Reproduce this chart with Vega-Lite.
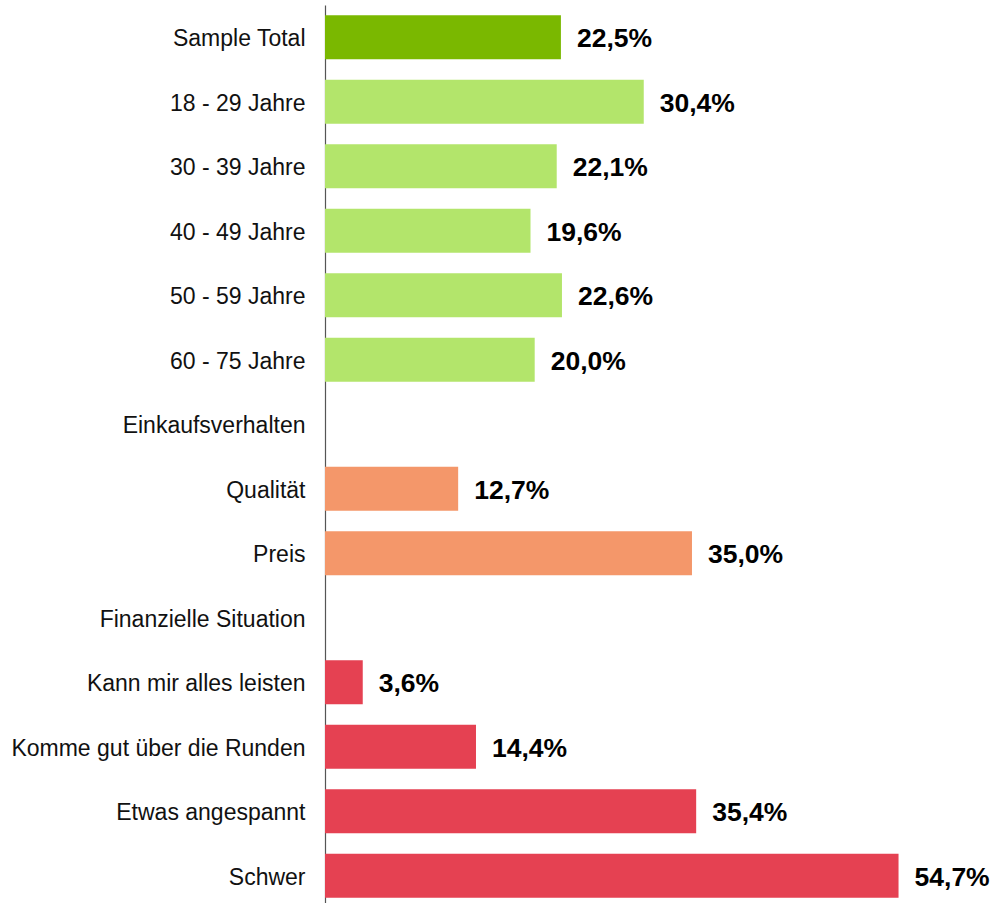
{
  "$schema": "https://vega.github.io/schema/vega-lite/v6.json",
  "width": 670,
  "height": 903,
  "autosize": {"type": "none"},
  "padding": {"left": 325, "top": 5, "right": 0, "bottom": 0},
  "background": "white",
  "config": {
    "view": {"stroke": null},
    "font": "Liberation Sans",
    "locale": {"number": {"decimal": ",", "thousands": ".", "grouping": [3], "currency": ["", " €"]}}
  },
  "data": {
    "values": [
      {"category": "Sample Total", "group": "total", "value": 0.225},
      {"category": "18 - 29 Jahre", "group": "age", "value": 0.304},
      {"category": "30 - 39 Jahre", "group": "age", "value": 0.221},
      {"category": "40 - 49 Jahre", "group": "age", "value": 0.196},
      {"category": "50 - 59 Jahre", "group": "age", "value": 0.226},
      {"category": "60 - 75 Jahre", "group": "age", "value": 0.200},
      {"category": "Einkaufsverhalten", "group": "header", "value": null},
      {"category": "Qualität", "group": "shop", "value": 0.127},
      {"category": "Preis", "group": "shop", "value": 0.350},
      {"category": "Finanzielle Situation", "group": "header", "value": null},
      {"category": "Kann mir alles leisten", "group": "fin", "value": 0.036},
      {"category": "Komme gut über die Runden", "group": "fin", "value": 0.144},
      {"category": "Etwas angespannt", "group": "fin", "value": 0.354},
      {"category": "Schwer", "group": "fin", "value": 0.547}
    ]
  },
  "encoding": {
    "y": {
      "field": "category",
      "type": "nominal",
      "sort": null,
      "scale": {
        "domain": ["Sample Total", "18 - 29 Jahre", "30 - 39 Jahre", "40 - 49 Jahre", "50 - 59 Jahre", "60 - 75 Jahre", "Einkaufsverhalten", "Qualität", "Preis", "Finanzielle Situation", "Kann mir alles leisten", "Komme gut über die Runden", "Etwas angespannt", "Schwer"],
        "paddingInner": 0.32,
        "paddingOuter": 0.16
      },
      "axis": {
        "title": null,
        "ticks": false,
        "labelPadding": 20,
        "labelOffset": 2,
        "labelFontSize": 23,
        "labelColor": "#111111",
        "labelLimit": 400,
        "domainColor": "#555555",
        "domainWidth": 1.2,
        "grid": false
      }
    },
    "x": {
      "field": "value",
      "type": "quantitative",
      "scale": {"domain": [0, 0.639], "nice": false},
      "axis": null
    }
  },
  "layer": [
    {
      "mark": {"type": "bar"},
      "encoding": {
        "color": {
          "field": "group",
          "type": "nominal",
          "scale": {"domain": ["total", "age", "shop", "fin", "header"], "range": ["#7AB800", "#B3E56B", "#F4976A", "#E54152", "#ffffff"]},
          "legend": null
        }
      }
    },
    {
      "mark": {"type": "text", "align": "left", "baseline": "middle", "dx": 16, "dy": 2, "fontSize": 26.5, "fontWeight": "bold", "color": "#000000"},
      "encoding": {
        "text": {"field": "value", "type": "quantitative", "format": ".1%"}
      }
    }
  ]
}
